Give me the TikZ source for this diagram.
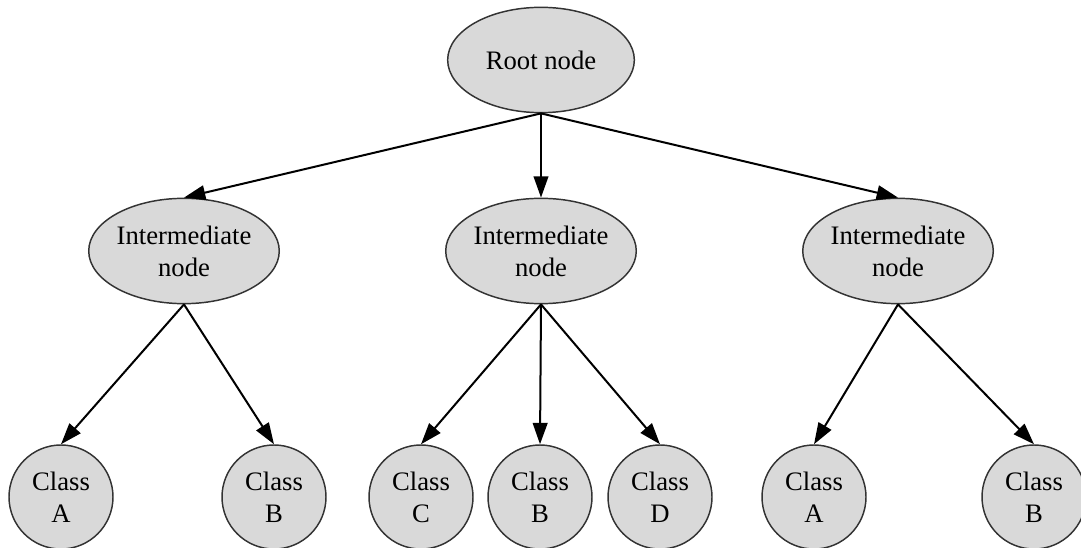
\documentclass[tikz,border=0pt]{standalone}
\usepackage{fontspec}
\setmainfont{Liberation Serif}
\usetikzlibrary{shapes.geometric,arrows.meta}
\begin{document}
\begin{tikzpicture}[x=0.75pt,y=-0.75pt,
  base/.style={draw=black!80,line width=1.1pt,fill=black!15,font=\fontsize{20}{24}\selectfont,align=center,inner sep=0pt},
  oval/.style={base,ellipse,minimum width=140pt,minimum height=79pt},
  leaf/.style={base,circle,minimum size=78pt},
  edge/.style={line width=1.5pt,-{Triangle[length=16pt,width=11pt]}}]
\useasboundingbox (0,0) rectangle (1081,548);
\node[oval] (root) at (541,60) {Root node};
\node[oval] (i1) at (184,251) {Intermediate\\node};
\node[oval] (i2) at (541,251) {Intermediate\\node};
\node[oval] (i3) at (898,251) {Intermediate\\node};
\node[leaf] (a1) at (61,497) {Class\\A};
\node[leaf] (b1) at (274,497) {Class\\B};
\node[leaf] (c2) at (421,497) {Class\\C};
\node[leaf] (b2) at (540,497) {Class\\B};
\node[leaf] (d2) at (660,497) {Class\\D};
\node[leaf] (a3) at (814,497) {Class\\A};
\node[leaf] (b3) at (1034,497) {Class\\B};
\draw[edge] (root.south) -- (i1.north);
\draw[edge] (root.south) -- (i2.north);
\draw[edge] (root.south) -- (i3.north);
\draw[edge] (i1.south) -- (a1.north);
\draw[edge] (i1.south) -- (b1.north);
\draw[edge] (i2.south) -- (c2.north);
\draw[edge] (i2.south) -- (b2.north);
\draw[edge] (i2.south) -- (d2.north);
\draw[edge] (i3.south) -- (a3.north);
\draw[edge] (i3.south) -- (b3.north);
\end{tikzpicture}
\end{document}
